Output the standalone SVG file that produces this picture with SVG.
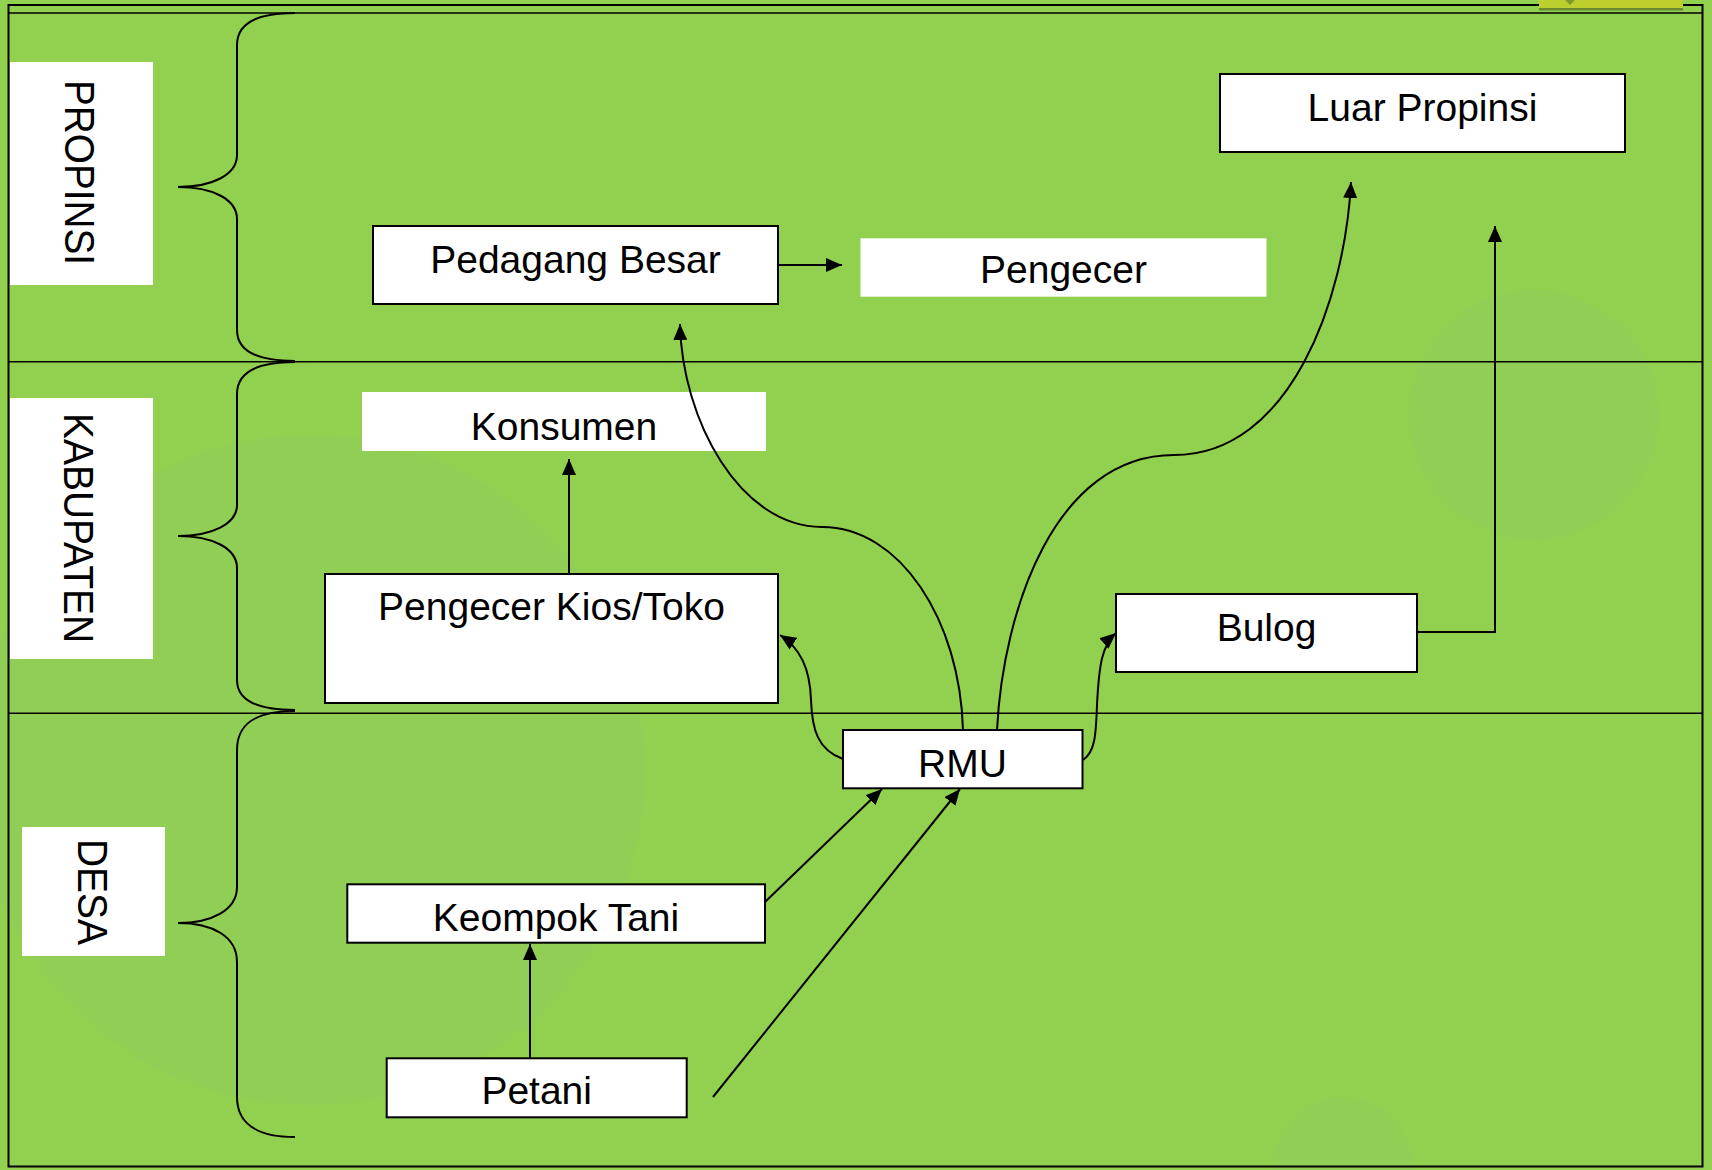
<svg xmlns="http://www.w3.org/2000/svg" width="1712" height="1170" viewBox="0 0 1712 1170">
  <style>
    .frame { fill: none; stroke: #000; stroke-width: 2; }
    .divider { stroke: #000; stroke-width: 1.6; }
    .brace { fill: none; stroke: #000; stroke-width: 2; }
    .box { fill: #fff; stroke: #000; stroke-width: 2; }
    .plain { fill: #fff; stroke: none; }
    .label { font-family: "Liberation Sans", Arial, sans-serif; font-size: 39px; fill: #000; text-anchor: middle; }
    .side { font-family: "Liberation Sans", Arial, sans-serif; font-size: 43px; fill: #000; }
    .conn { fill: none; stroke: #000; stroke-width: 2; }
    .deco { fill: #8dcb64; opacity: 0.3; }
  </style>
  <defs>
    <marker id="arrow" viewBox="0 0 16 14" refX="16" refY="7" markerWidth="16" markerHeight="14" markerUnits="userSpaceOnUse" orient="auto">
      <path d="M0,0 L16,7 L0,14 z" fill="#000"/>
    </marker>
  </defs>

  <!-- background -->
  <rect x="0" y="0" width="1712" height="1170" fill="#92d050"/>
  <g id="decoration">
    <circle class="deco" cx="310" cy="770" r="335"/>
    <circle class="deco" cx="1534" cy="415" r="125"/>
    <circle class="deco" cx="1343" cy="1168" r="70"/>
  </g>

  <!-- frame and level dividers -->
  <g id="frame">
    <rect class="frame" x="8.5" y="5" width="1694" height="1161.5"/>
    <line class="divider" x1="8.5" y1="13" x2="1702.5" y2="13"/>
    <line class="divider" x1="8.5" y1="361.7" x2="1702.5" y2="361.7"/>
    <line class="divider" x1="8.5" y1="713.3" x2="1702.5" y2="713.3"/>
  </g>

  <g id="top-bar">
    <rect x="1539" y="0" width="144" height="10.5" fill="#5a6e24" opacity="0.7"/>
    <rect x="1539" y="0" width="144" height="8" fill="#bccf2c"/>
    <path d="M1565,0 L1575,0 L1570,5 z" fill="#7c9a2c"/>
  </g>

  <!-- level labels -->
  <g id="level-propinsi">
    <rect class="plain" x="10" y="62" width="143" height="223"/>
    <text class="side" transform="translate(65,80) rotate(90)" textLength="185" lengthAdjust="spacingAndGlyphs">PROPINSI</text>
    <path class="brace" d="M295,13 C255,13 237,25 237,45 L237,155 C237,175 212,187 178,187 C212,187 237,199 237,219 L237,330 C237,350 255,361 295,361"/>
  </g>
  <g id="level-kabupaten">
    <rect class="plain" x="10" y="398" width="143" height="261"/>
    <text class="side" transform="translate(64,413) rotate(90)" textLength="230" lengthAdjust="spacingAndGlyphs">KABUPATEN</text>
    <path class="brace" d="M295,362 C255,362 237,374 237,394 L237,505 C237,524 212,536 178,536 C212,536 237,548 237,568 L237,680 C237,699 255,710 295,710"/>
  </g>
  <g id="level-desa">
    <rect class="plain" x="22" y="827" width="143" height="129"/>
    <text class="side" transform="translate(78,839) rotate(90)" textLength="106" lengthAdjust="spacingAndGlyphs">DESA</text>
    <path class="brace" d="M295,711 C255,711 237,724 237,750 L237,887 C237,910 212,923 178,923 C212,923 237,936 237,962 L237,1097 C237,1122 255,1137 295,1137"/>
  </g>

  <!-- nodes -->
  <g id="node-luar-propinsi">
    <rect class="box" x="1220" y="74" width="405" height="78"/>
    <text class="label" x="1422.5" y="121">Luar Propinsi</text>
  </g>
  <g id="node-pedagang-besar">
    <rect class="box" x="373" y="226" width="405" height="78"/>
    <text class="label" x="575.5" y="272.7">Pedagang Besar</text>
  </g>
  <g id="node-pengecer">
    <rect class="plain" x="860.5" y="238.3" width="406" height="58.4"/>
    <text class="label" x="1063.5" y="283.3">Pengecer</text>
  </g>
  <g id="node-konsumen">
    <rect class="plain" x="362" y="392" width="404" height="59"/>
    <text class="label" x="564" y="440">Konsumen</text>
  </g>
  <g id="node-pengecer-kios">
    <rect class="box" x="325" y="574" width="453" height="129"/>
    <text class="label" x="551.5" y="620">Pengecer Kios/Toko</text>
  </g>
  <g id="node-bulog">
    <rect class="box" x="1116" y="594" width="301" height="78"/>
    <text class="label" x="1266.5" y="641">Bulog</text>
  </g>
  <g id="node-rmu">
    <rect class="box" x="843" y="730" width="239.5" height="58.3"/>
    <text class="label" x="962.5" y="776.7">RMU</text>
  </g>
  <g id="node-keompok-tani">
    <rect class="box" x="347.3" y="884.3" width="417.7" height="58.4"/>
    <text class="label" x="556" y="930.7">Keompok Tani</text>
  </g>
  <g id="node-petani">
    <rect class="box" x="386.7" y="1058.3" width="300" height="59"/>
    <text class="label" x="536.7" y="1104">Petani</text>
  </g>

  <!-- connectors (drawn above nodes, as in the reference) -->
  <g id="connectors">
    <path class="conn" marker-end="url(#arrow)" d="M778,265 L842,265"/>
    <path class="conn" marker-end="url(#arrow)" d="M963,730 C960,620 900,527 822,527 C740,527 682,420 680,324"/>
    <path class="conn" marker-end="url(#arrow)" d="M997,730 C1003,610 1055,455 1174,455 C1290,455 1345,300 1351,182"/>
    <path class="conn" marker-end="url(#arrow)" d="M1417,632 L1495,632 L1495,226"/>
    <path class="conn" marker-end="url(#arrow)" d="M569,573 L569,459"/>
    <path class="conn" marker-end="url(#arrow)" d="M843,759 C818,750 812,730 811,700 C810,668 800,648 780,635"/>
    <path class="conn" marker-end="url(#arrow)" d="M1083,760 C1095,752 1096,735 1097,705 C1099,665 1102,645 1116,633"/>
    <path class="conn" marker-end="url(#arrow)" d="M765,902 L882,789"/>
    <path class="conn" marker-end="url(#arrow)" d="M713,1097 L960,789"/>
    <path class="conn" marker-end="url(#arrow)" d="M530,1058 L530,944"/>
  </g>
</svg>
